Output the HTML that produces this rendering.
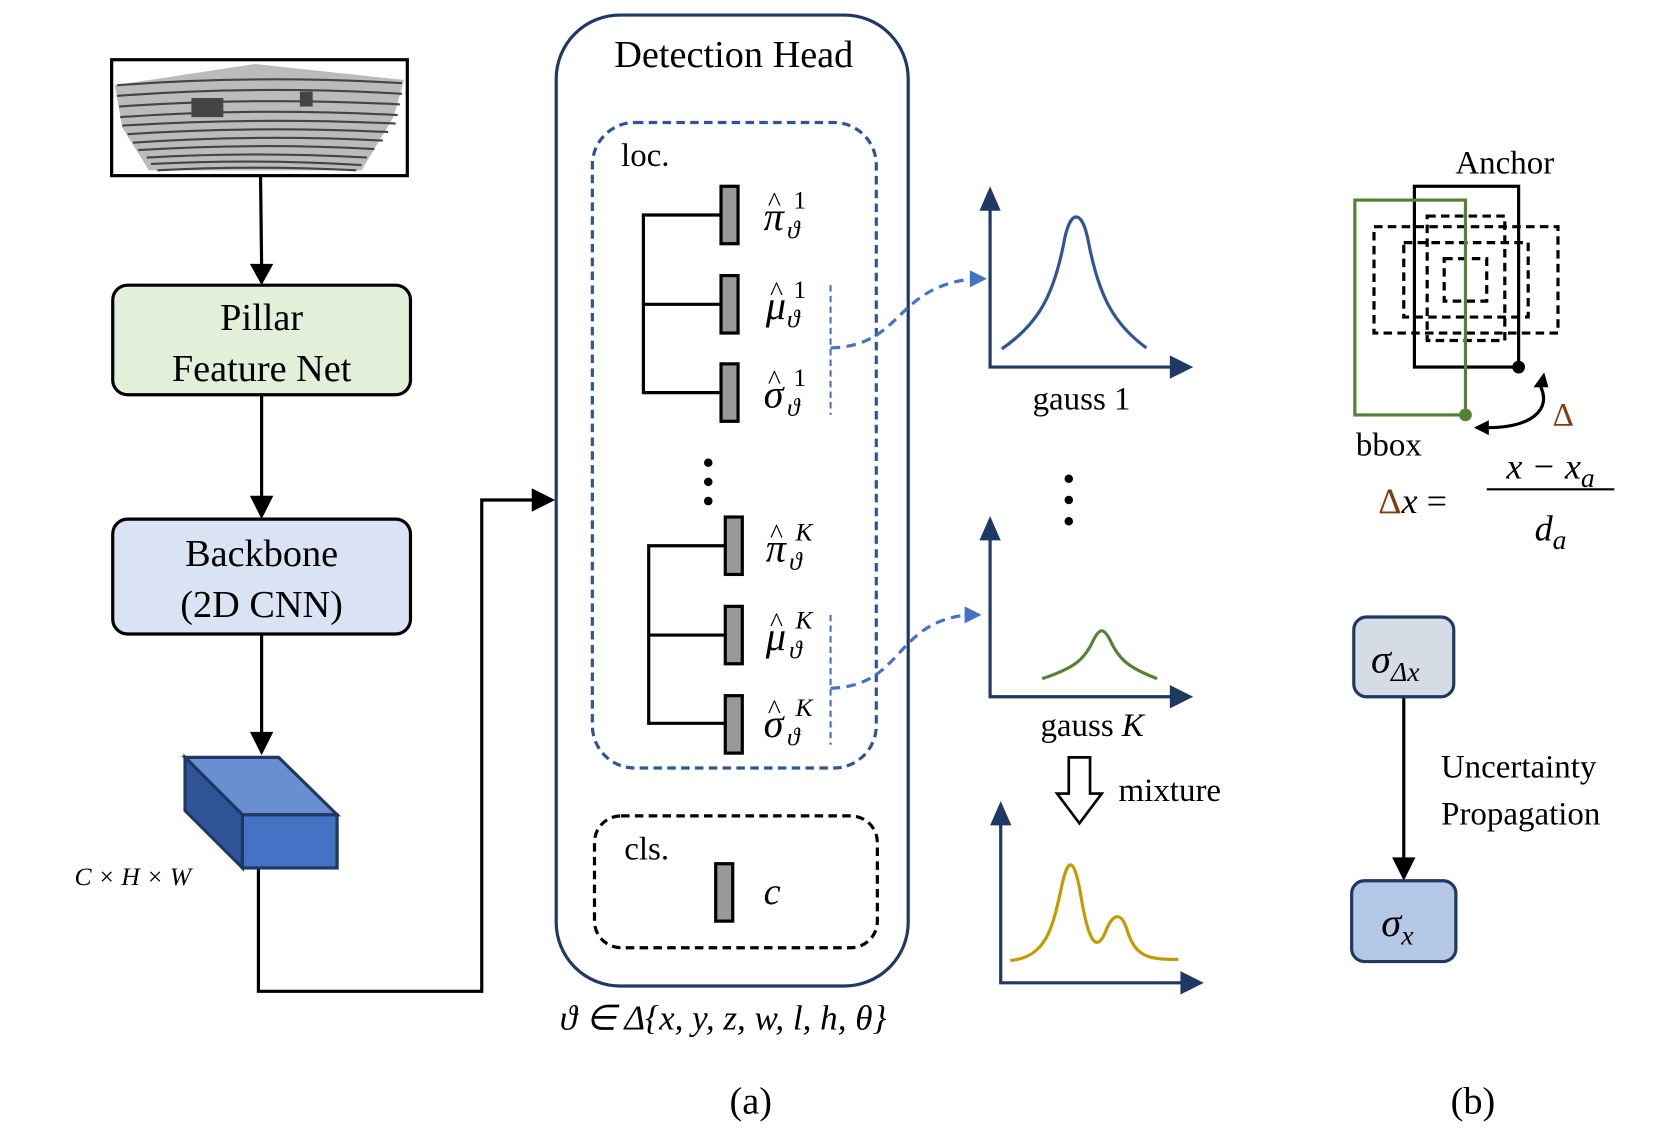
<!DOCTYPE html>
<html><head><meta charset="utf-8"><style>html,body{margin:0;padding:0;background:#fff}svg{display:block}
text{font-family:"Liberation Serif",serif;fill:#000}
.i{font-style:italic}</style></head><body>
<svg width="1659" height="1134" viewBox="0 0 1560 1066" xmlns="http://www.w3.org/2000/svg">
<!-- point cloud -->
<rect x="105" y="56" width="278" height="109" fill="#fff" stroke="#000" stroke-width="3"/>
<polygon points="108,80 240,60 380,75 370,110 340,160 140,160 115,120" fill="#bbb"/>
<g stroke="#444" stroke-width="2" fill="none">
<path d="M110,80 Q240,70 378,78"/><path d="M110,90 Q240,80 378,88"/><path d="M112,100 Q240,91 376,98"/>
<path d="M113,110 Q240,101 374,108"/><path d="M115,118 Q240,110 372,116"/><path d="M120,126 Q240,118 365,124"/><path d="M125,134 Q240,126 360,132"/><path d="M130,141 Q240,134 352,140"/>
<path d="M138,148 Q240,142 345,148"/><path d="M142,154 Q240,149 340,155"/><path d="M148,160 Q240,155 335,160"/>
</g>
<g fill="#444"><rect x="180" y="92" width="30" height="18"/><rect x="282" y="86" width="12" height="14"/></g>
<!-- arrows left column -->
<g stroke="#000" stroke-width="3" fill="none">
<line x1="245" y1="165" x2="246" y2="250"/><line x1="246" y1="371" x2="246" y2="470"/><line x1="246" y1="596" x2="246" y2="692"/>
<polyline points="243,816 243,932 453,932 453,470 503,470"/>
<line x1="1320" y1="655" x2="1320" y2="810"/>
</g>
<g fill="#000">
<polygon points="235,248 257,248 246,268"/><polygon points="235,466 257,466 246,488"/><polygon points="235,688 257,688 246,710"/>
<polygon points="500,459 500,481 522,470"/><polygon points="1309,806 1331,806 1320,828"/>
</g>
<rect x="106" y="268" width="280" height="103" rx="14" fill="#e2efd9" stroke="#000" stroke-width="3"/>
<text x="246" y="310" font-size="36" text-anchor="middle">Pillar</text>
<text x="246" y="358" font-size="36" text-anchor="middle">Feature Net</text>
<rect x="106" y="488" width="280" height="108" rx="14" fill="#dae3f3" stroke="#000" stroke-width="3"/>
<text x="246" y="532" font-size="36" text-anchor="middle">Backbone</text>
<text x="246" y="580" font-size="36" text-anchor="middle">(2D CNN)</text>
<!-- cube -->
<g stroke="#203864" stroke-width="3">
<polygon points="174,712 262,712 317,766 228,766" fill="#6a8fd0"/>
<polygon points="174,712 228,766 228,816 174,762" fill="#2f5597"/>
<rect x="228" y="766" width="89" height="50" fill="#4472c4"/>
</g>
<text x="70" y="832" font-size="24" class="i">C × H × W</text>
<!-- detection head -->
<rect x="523" y="14" width="331" height="913" rx="60" fill="none" stroke="#1f3864" stroke-width="3"/>
<text x="690" y="63" font-size="36" text-anchor="middle">Detection Head</text>
<rect x="557" y="115" width="267" height="607" rx="40" fill="none" stroke="#2f5597" stroke-width="3" stroke-dasharray="8,5"/>
<text x="584" y="156" font-size="31">loc.</text>
<g stroke="#000" stroke-width="3" fill="none">
<polyline points="678,202 605,202 605,369 678,369"/><line x1="605" y1="286" x2="678" y2="286"/>
<polyline points="682,513 610,513 610,680 682,680"/><line x1="610" y1="597" x2="682" y2="597"/>
</g>
<g fill="#999" stroke="#000" stroke-width="3">
<rect x="678" y="175" width="16" height="54"/><rect x="678" y="259" width="16" height="54"/><rect x="678" y="342" width="16" height="54"/>
<rect x="682" y="486" width="16" height="54"/><rect x="682" y="570" width="16" height="54"/><rect x="682" y="654" width="16" height="54"/>
<rect x="673" y="812" width="16" height="54"/>
</g>
<g class="i">
<text x="718" y="216" font-size="38">π</text><text x="722" y="198" font-size="26" style="font-style:normal">^</text><text x="746" y="196" font-size="24" style="font-style:normal">1</text><text x="740" y="224" font-size="24">ϑ</text>
<text x="720" y="300" font-size="38">μ</text><text x="724" y="282" font-size="26" style="font-style:normal">^</text><text x="746" y="280" font-size="24" style="font-style:normal">1</text><text x="740" y="308" font-size="24">ϑ</text>
<text x="718" y="383" font-size="38">σ</text><text x="722" y="365" font-size="26" style="font-style:normal">^</text><text x="746" y="363" font-size="24" style="font-style:normal">1</text><text x="740" y="391" font-size="24">ϑ</text>
<text x="720" y="528" font-size="38">π</text><text x="724" y="510" font-size="26" style="font-style:normal">^</text><text x="748" y="508" font-size="24">K</text><text x="742" y="536" font-size="24">ϑ</text>
<text x="720" y="611" font-size="38">μ</text><text x="724" y="593" font-size="26" style="font-style:normal">^</text><text x="748" y="591" font-size="24">K</text><text x="742" y="619" font-size="24">ϑ</text>
<text x="718" y="693" font-size="38">σ</text><text x="722" y="675" font-size="26" style="font-style:normal">^</text><text x="748" y="673" font-size="24">K</text><text x="740" y="701" font-size="24">ϑ</text>
<text x="718" y="850" font-size="36">c</text>
</g>
<g fill="#000"><circle cx="666" cy="435" r="4"/><circle cx="666" cy="453" r="4"/><circle cx="666" cy="471" r="4"/>
<circle cx="1005" cy="450" r="4"/><circle cx="1005" cy="470" r="4"/><circle cx="1005" cy="490" r="4"/></g>
<g stroke="#4472c4" stroke-width="2" stroke-dasharray="6,4"><line x1="781" y1="268" x2="781" y2="390"/><line x1="781" y1="578" x2="781" y2="700"/></g>
<g stroke="#4472c4" stroke-width="3" stroke-dasharray="9,6" fill="none">
<path d="M781,327 C850,325 840,270 915,262"/><path d="M781,647 C850,645 840,585 910,578"/>
</g>
<g fill="#4472c4"><polygon points="912,254 928,262 912,270"/><polygon points="907,570 923,578 907,586"/></g>
<rect x="559" y="767" width="266" height="124" rx="25" fill="none" stroke="#000" stroke-width="3" stroke-dasharray="8,5"/>
<text x="587" y="808" font-size="31">cls.</text>
<text x="680" y="968" font-size="33" class="i" text-anchor="middle">ϑ ∈ Δ{x, y, z, w, l, h, θ}</text>
<!-- axes -->
<g stroke="#1f3864" stroke-width="3" fill="none">
<polyline points="931,195 931,345 1105,345"/><polyline points="931,505 931,655 1105,655"/><polyline points="941,773 941,924 1115,924"/>
</g>
<g fill="#1f3864">
<polygon points="921,198 941,198 931,175"/><polygon points="1100,334 1100,356 1122,345"/>
<polygon points="921,508 941,508 931,485"/><polygon points="1100,644 1100,666 1122,655"/>
<polygon points="931,776 951,776 941,753"/><polygon points="1110,913 1110,935 1132,924"/>
</g>
<path d="M942,328 C975,305 990,280 1000,230 C1006,195 1018,195 1024,230 C1034,280 1048,305 1078,327" fill="none" stroke="#2f5597" stroke-width="3"/>
<path d="M980,638 C1010,628 1020,620 1028,602 C1034,590 1038,590 1044,602 C1052,620 1062,628 1088,638" fill="none" stroke="#548235" stroke-width="3"/>
<path d="M950,903 C985,900 990,870 998,835 C1004,805 1010,805 1016,840 C1024,890 1032,895 1040,875 C1046,860 1054,855 1060,875 C1068,900 1080,902 1108,902" fill="none" stroke="#c49a00" stroke-width="3"/>
<text x="1017" y="385" font-size="31" text-anchor="middle">gauss 1</text>
<text x="1027" y="692" font-size="31" text-anchor="middle">gauss <tspan class="i">K</tspan></text>
<polygon points="1005,712 1025,712 1025,746 1036,746 1015,774 994,746 1005,746" fill="#fff" stroke="#000" stroke-width="2.5"/>
<text x="1100" y="753" font-size="31" text-anchor="middle">mixture</text>
<text x="706" y="1047" font-size="36" text-anchor="middle">(a)</text>
<text x="1385" y="1047" font-size="36" text-anchor="middle">(b)</text>
<!-- anchor diagram -->
<text x="1415" y="163" font-size="31" text-anchor="middle">Anchor</text>
<g fill="none" stroke="#000" stroke-width="3">
<rect x="1330" y="175" width="98" height="170"/>
<g stroke-dasharray="8,5"><rect x="1292" y="213" width="173" height="100"/><rect x="1342" y="203" width="73" height="117"/><rect x="1320" y="228" width="117" height="70"/><rect x="1358" y="243" width="40" height="40"/></g>
</g>
<rect x="1274" y="188" width="104" height="202" fill="none" stroke="#548235" stroke-width="3"/>
<circle cx="1428" cy="345" r="6" fill="#000"/><circle cx="1378" cy="390" r="6" fill="#548235"/>
<path d="M1448,362 C1460,385 1440,402 1398,402" fill="none" stroke="#000" stroke-width="3"/>
<polygon points="1442,364 1456,364 1452,350" fill="#000"/><polygon points="1400,395 1400,409 1386,402" fill="#000"/>
<text x="1470" y="400" font-size="31" style="fill:#843c0c" text-anchor="middle">Δ</text>
<text x="1306" y="428" font-size="31" text-anchor="middle">bbox</text>
<text x="1296" y="482" font-size="34"><tspan style="fill:#843c0c">Δ</tspan><tspan class="i">x</tspan> =</text>
<line x1="1398" y1="460" x2="1518" y2="460" stroke="#000" stroke-width="2"/>
<text x="1458" y="450" font-size="34" text-anchor="middle" class="i">x − x<tspan font-size="26" dy="8">a</tspan></text>
<text x="1458" y="508" font-size="34" text-anchor="middle" class="i">d<tspan font-size="26" dy="8">a</tspan></text>
<rect x="1273" y="580" width="94" height="75" rx="12" fill="#d6dce5" stroke="#1f3864" stroke-width="3"/>
<text x="1312" y="632" font-size="38" text-anchor="middle" class="i">σ<tspan font-size="26" dy="8">Δx</tspan></text>
<rect x="1271" y="828" width="98" height="76" rx="12" fill="#b4c7e7" stroke="#1f3864" stroke-width="3"/>
<text x="1314" y="880" font-size="38" text-anchor="middle" class="i">σ<tspan font-size="26" dy="8">x</tspan></text>
<text x="1428" y="731" font-size="31" text-anchor="middle">Uncertainty</text>
<text x="1430" y="775" font-size="31" text-anchor="middle">Propagation</text>
</svg>
</body></html>
